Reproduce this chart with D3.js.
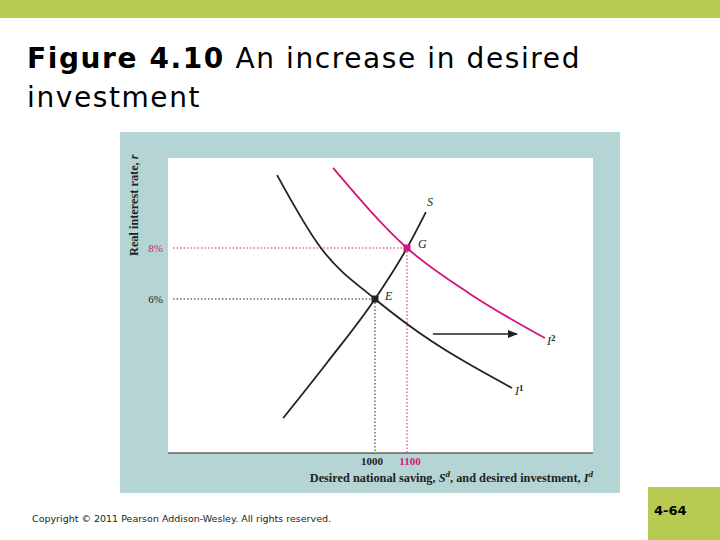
<!DOCTYPE html>
<html><head><meta charset="utf-8">
<script src="https://cdn.jsdelivr.net/npm/d3@7"></script>
<style>body{margin:0;background:#fff}</style>
</head><body>
<script>
// curve points (x: saving/investment, y: real interest rate %)
var curveI1 = [[694,10.86],[831,8],[1000,6],[1100,5.02],[1428,2.51]];
var curveI2 = [[869,11.14],[1100,8],[1297,6.2],[1531,4.47]];
var curveS = [[713,1.33],[850,3.5],[1000,6],[1100,8],[1159,9.41]];
var pointE = [1000,6], pointG = [1100,8];
var xTicks = [1000,1100], yTicks = [6,8];
var magenta = "#d4157e";

var svg = d3.select("body").append("svg").attr("width",720).attr("height",540)
  .style("font-family","'DejaVu Sans', Verdana, sans-serif");

svg.append("rect").attr("width",720).attr("height",18).attr("fill","#b9ca52");
svg.append("rect").attr("x",648).attr("y",487).attr("width",72).attr("height",53).attr("fill","#b9ca52");
svg.append("text").attr("x",654).attr("y",515).attr("font-size",13).attr("font-weight","bold").text("4-64");

var t = svg.append("text").attr("font-size",28).attr("letter-spacing",1.6).attr("x",27).attr("y",68);
t.append("tspan").attr("font-weight","bold").text("Figure 4.10");
t.append("tspan").text("  An increase in desired");
svg.append("text").attr("font-size",28).attr("letter-spacing",1.6).attr("x",27).attr("y",107).text("investment");
svg.append("text").attr("x",32).attr("y",522).attr("font-size",9.5).attr("fill","#222")
  .text("Copyright © 2011 Pearson Addison-Wesley. All rights reserved.");

svg.append("rect").attr("x",120).attr("y",132).attr("width",500).attr("height",361).attr("fill","#b4d5d3");
svg.append("rect").attr("x",168).attr("y",158).attr("width",425).attr("height",295).attr("fill","#fff");

var x = d3.scaleLinear().domain([1000,1100]).range([375,407]);
var y = d3.scaleLinear().domain([6,8]).range([299,248]);

svg.append("line").attr("x1",168).attr("x2",593).attr("y1",453).attr("y2",453).attr("stroke","#222").attr("stroke-width",1.2);

var line = d3.line().x(function(d){return x(d[0]);}).y(function(d){return y(d[1]);}).curve(d3.curveMonotoneX);
var serif = "'Liberation Serif', 'DejaVu Serif', serif";

// dotted guides
[[pointE,"#222"],[pointG,magenta]].forEach(function(p){
  svg.append("line").attr("x1",173).attr("x2",x(p[0][0])).attr("y1",y(p[0][1])).attr("y2",y(p[0][1]))
    .attr("stroke",p[1]).attr("stroke-width",1).attr("stroke-dasharray","1.5,2");
  svg.append("line").attr("x1",x(p[0][0])).attr("x2",x(p[0][0])).attr("y1",y(p[0][1])).attr("y2",453)
    .attr("stroke",p[1]).attr("stroke-width",1).attr("stroke-dasharray","1.5,2");
});

svg.append("path").attr("d",line(curveI1)).attr("fill","none").attr("stroke","#222").attr("stroke-width",1.8);
svg.append("path").attr("d",line(curveS)).attr("fill","none").attr("stroke","#222").attr("stroke-width",1.8);
svg.append("path").attr("d",line(curveI2)).attr("fill","none").attr("stroke",magenta).attr("stroke-width",1.8);

svg.append("rect").attr("x",x(pointE[0])-3.5).attr("y",y(pointE[1])-3.5).attr("width",7).attr("height",7).attr("fill","#222");
svg.append("rect").attr("x",x(pointG[0])-3.5).attr("y",y(pointG[1])-3.5).attr("width",7).attr("height",7).attr("fill",magenta);

// arrow
svg.append("defs").append("marker").attr("id","ah").attr("viewBox","0 0 10 10").attr("refX",9).attr("refY",5)
  .attr("markerWidth",7).attr("markerHeight",7).attr("orient","auto")
  .append("path").attr("d","M0,1L10,5L0,9Z").attr("fill","#222");
svg.append("line").attr("x1",x(1181)).attr("x2",x(1444)).attr("y1",y(4.63)).attr("y2",y(4.63))
  .attr("stroke","#222").attr("stroke-width",1.5).attr("marker-end","url(#ah)");

// labels
function lab(tx,px,py,col,sup){
  var e = svg.append("text").attr("x",px).attr("y",py).attr("font-family",serif).attr("font-style","italic")
    .attr("font-size",12).attr("fill",col||"#222").text(tx);
  if(sup) e.append("tspan").attr("dy",-4).attr("font-size",9).attr("font-style","normal").attr("font-weight","bold").text(sup);
}
lab("S",427,206); lab("G",418,248); lab("E",385,300);
lab("I",515,395,"#222","1"); lab("I",547,345,"#222","2");

xTicks.forEach(function(v,i){
  svg.append("text").attr("x",x(v)+(i?3:-3)).attr("y",465).attr("text-anchor","middle").attr("font-family",serif)
    .attr("font-size",11).attr("font-weight","bold").attr("fill",i?magenta:"#222").text(v);
});
yTicks.forEach(function(v,i){
  svg.append("text").attr("x",163).attr("y",y(v)+4).attr("text-anchor","end").attr("font-family",serif)
    .attr("font-size",11).attr("fill",i?magenta:"#222").text(v+"%");
});
var xl = svg.append("text").attr("x",593).attr("y",482).attr("text-anchor","end").attr("font-family",serif)
  .attr("font-size",12.3).attr("font-weight","bold").attr("fill","#222").text("Desired national saving, ");
xl.append("tspan").attr("font-style","italic").text("S");
xl.append("tspan").attr("dy",-5).attr("font-size",9).attr("font-style","italic").text("d");
xl.append("tspan").attr("dy",5).text(", and desired investment, ");
xl.append("tspan").attr("font-style","italic").text("I");
xl.append("tspan").attr("dy",-5).attr("font-size",9).attr("font-style","italic").text("d");
var yl = svg.append("text").attr("transform","translate(138,256) rotate(-90)").attr("font-family",serif)
  .attr("font-size",12.3).attr("font-weight","bold").attr("fill","#222").text("Real interest rate, ");
yl.append("tspan").attr("font-style","italic").text("r");
</script>
</body></html>
